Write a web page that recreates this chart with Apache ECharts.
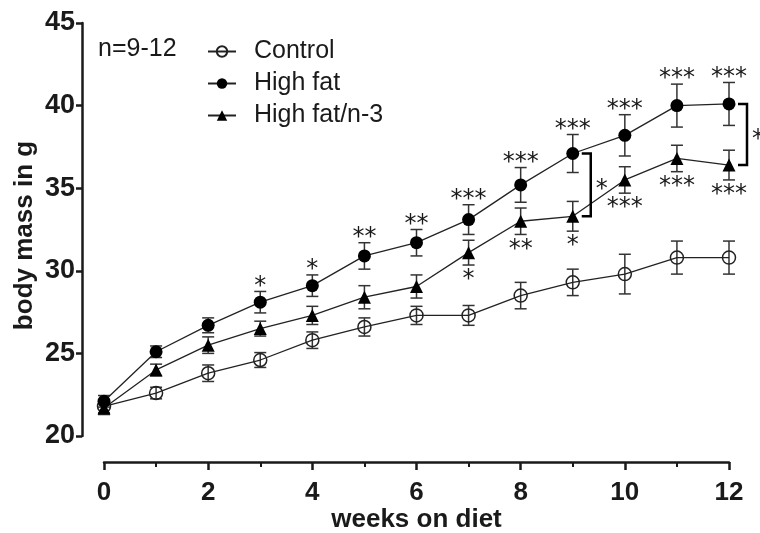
<!DOCTYPE html>
<html>
<head>
<meta charset="utf-8">
<script src="https://cdn.jsdelivr.net/npm/echarts@6/dist/echarts.min.js"></script>
<style>html,body{margin:0;padding:0;background:#fff;}#c{width:760px;height:533px;}</style>
</head>
<body>
<div id="c"></div>
<script>
var weeks = [0, 1, 2, 3, 4, 5, 6, 7, 8, 9, 10, 11, 12];
var control = [21.8, 22.6, 23.8, 24.6, 25.8, 26.6, 27.3, 27.3, 28.5, 29.3, 29.8, 30.8, 30.8];
var controlErr = [0.4, 0.35, 0.5, 0.45, 0.5, 0.55, 0.55, 0.6, 0.8, 0.8, 1.2, 1.0, 1.0];
var highFat = [22.1, 25.1, 26.7, 28.1, 29.1, 30.9, 31.7, 33.1, 35.2, 37.1, 38.2, 40.0, 40.1];
var highFatErr = [0.35, 0.35, 0.45, 0.65, 0.65, 0.8, 0.8, 0.9, 1.05, 1.15, 1.25, 1.3, 1.3];
var highFatN3 = [21.7, 24.0, 25.5, 26.5, 27.3, 28.4, 29.05, 31.1, 33.0, 33.3, 35.5, 36.8, 36.4];
var highFatN3Err = [0.4, 0.35, 0.5, 0.45, 0.55, 0.7, 0.7, 0.75, 0.8, 0.9, 0.8, 0.8, 0.9];
var sigHighFat = ['', '', '', '*', '*', '**', '**', '***', '***', '***', '***', '***', '***'];
var sigHighFatN3 = ['', '', '', '', '', '', '', '*', '**', '*', '***', '***', '***'];
var bracketWeeks = [9, 12];
var bracketLabels = ['*', '*'];
var seriesNames = ['Control', 'High fat', 'High fat/n-3'];
var yTicks = [20, 25, 30, 35, 40, 45];
var xTicks = [0, 2, 4, 6, 8, 10, 12];
var nNote = 'n=9-12';
</script>
<script>
var FONT = '"Liberation Sans", Arial, sans-serif';
var STAR_FONT = '24px "DejaVu Sans"';
var INK = '#1a1a1a';
function pairs(vals) { return weeks.map(function (w, i) { return [w, vals[i]]; }); }
function errData(vals, errs) { return weeks.map(function (w, i) { return [w, vals[i] - errs[i], vals[i] + errs[i]]; }); }

function errRender(params, api) {
  var x = api.value(0);
  var lo = api.coord([x, api.value(1)]);
  var hi = api.coord([x, api.value(2)]);
  var cw = 6;
  var st = { stroke: '#333', lineWidth: 1.5 };
  return { type: 'group', children: [
    { type: 'line', shape: { x1: lo[0], y1: lo[1], x2: hi[0], y2: hi[1] }, style: st },
    { type: 'line', shape: { x1: lo[0] - cw, y1: lo[1], x2: lo[0] + cw, y2: lo[1] }, style: st },
    { type: 'line', shape: { x1: hi[0] - cw, y1: hi[1], x2: hi[0] + cw, y2: hi[1] }, style: st }
  ] };
}
function errSeries(vals, errs) {
  return { type: 'custom', renderItem: errRender, data: errData(vals, errs), encode: { x: 0, y: [1, 2] }, z: 1, silent: true, clip: false };
}
function starSeries(vals, errs, labels, above) {
  return {
    type: 'custom', z: 3, silent: true, clip: false,
    data: weeks.map(function (w, i) { return [w, above ? vals[i] + errs[i] : vals[i] - errs[i]]; }),
    encode: { x: 0, y: 1 },
    renderItem: function (params, api) {
      var t = labels[params.dataIndex];
      if (!t) return;
      var p = api.coord([api.value(0), api.value(1)]);
      return { type: 'text', x: p[0], y: above ? p[1] - 5 : p[1] + 15,
        style: { text: t, fill: INK, font: STAR_FONT, align: 'center', verticalAlign: 'middle' } };
    }
  };
}

var chart = echarts.init(document.getElementById('c'), null, { renderer: 'canvas' });
var lineStyle = { color: '#222', width: 1.3 };
var axisName = { fontWeight: 'bold', color: INK, fontFamily: FONT };
chart.setOption({
  animation: false,
  backgroundColor: '#fff',
  textStyle: { fontFamily: FONT, color: INK },
  grid: [
    { left: 104, right: 31, top: 23, bottom: 97, outerBoundsMode: 'none', containLabel: false },
    { left: 82, right: 31, top: 23, bottom: 97, outerBoundsMode: 'none', containLabel: false }
  ],
  title: { text: nNote, left: 93, top: 32, textStyle: { fontFamily: FONT, fontSize: 25, fontWeight: 'normal', color: INK } },
  legend: {
    orient: 'vertical', left: 202, top: 34, itemWidth: 28, itemHeight: 13, itemGap: 7,
    textStyle: { fontFamily: FONT, fontSize: 25, lineHeight: 25, color: INK, padding: [0, 0, 0, 13] },
    data: seriesNames
  },
  xAxis: [{
    gridIndex: 0, type: 'value', min: 0, max: 12, interval: 2, offset: 26,
    axisLine: { lineStyle: { color: INK, width: 2.5 } },
    axisTick: { length: 8, lineStyle: { width: 2.5, color: INK } },
    minorTick: { show: true, splitNumber: 2, length: 5, lineStyle: { width: 2, color: INK } },
    splitLine: { show: false },
    axisLabel: { margin: 18, fontSize: 26, fontWeight: 'bold', color: INK, fontFamily: FONT,
      formatter: function (v) { return xTicks.indexOf(v) >= 0 ? String(v) : ''; } },
    name: 'weeks on diet', nameLocation: 'middle', nameGap: 45, nameMoveOverlap: false,
    nameTextStyle: Object.assign({ fontSize: 26 }, axisName)
  }, {
    gridIndex: 1, type: 'value', min: 0, max: 12, show: false
  }],
  yAxis: [{
    gridIndex: 0, type: 'value', min: 20, max: 45, interval: 5, show: false
  }, {
    gridIndex: 1, type: 'value', min: 20, max: 45, interval: 5,
    axisLine: { show: true, lineStyle: { color: INK, width: 2.5 } },
    axisTick: { show: true, length: 6, lineStyle: { width: 2.5, color: INK } },
    splitLine: { show: false },
    axisLabel: { margin: 7, fontSize: 27, fontWeight: 'bold', color: INK, fontFamily: FONT,
      formatter: function (v) { return yTicks.indexOf(v) >= 0 ? String(v) : ''; } },
    name: 'body mass in g', nameLocation: 'middle', nameGap: 44, nameMoveOverlap: false,
    nameTextStyle: Object.assign({ fontSize: 26, padding: [0, 12, 0, 0] }, axisName)
  }],
  series: [
    errSeries(control, controlErr),
    errSeries(highFat, highFatErr),
    errSeries(highFatN3, highFatN3Err),
    { name: seriesNames[0], type: 'line', data: pairs(control), symbol: 'circle', symbolSize: 13, z: 2, clip: false,
      lineStyle: lineStyle, itemStyle: { color: 'rgba(255,255,255,0)', borderColor: '#222', borderWidth: 1.5 } },
    { name: seriesNames[1], type: 'line', data: pairs(highFat), symbol: 'circle', symbolSize: 13, z: 2, clip: false,
      lineStyle: lineStyle, itemStyle: { color: '#000', borderColor: '#000', borderWidth: 0 } },
    { name: seriesNames[2], type: 'line', data: pairs(highFatN3), symbol: 'triangle', symbolSize: 13, z: 2, clip: false,
      lineStyle: lineStyle, itemStyle: { color: '#000', borderColor: '#000', borderWidth: 0 } },
    starSeries(highFat, highFatErr, sigHighFat, true),
    starSeries(highFatN3, highFatN3Err, sigHighFatN3, false),
    {
      type: 'custom', z: 3, silent: true, clip: false,
      data: bracketWeeks.map(function (w) { return [w, highFat[w], highFatN3[w]]; }),
      encode: { x: 0, y: [1, 2] },
      renderItem: function (params, api) {
        var a = api.coord([api.value(0), api.value(1)]);
        var b = api.coord([api.value(0), api.value(2)]);
        var bx = a[0] + 18;
        return { type: 'group', children: [
          { type: 'polyline', shape: { points: [[bx - 9, a[1]], [bx, a[1]], [bx, b[1]], [bx - 9, b[1]]] },
            style: { stroke: '#000', lineWidth: 2.5, fill: null } },
          { type: 'text', x: bx + 11, y: (a[1] + b[1]) / 2 + 5,
            style: { text: bracketLabels[params.dataIndex], fill: INK, font: STAR_FONT, align: 'center', verticalAlign: 'middle' } }
        ] };
      }
    }
  ]
});
</script>
</body>
</html>
